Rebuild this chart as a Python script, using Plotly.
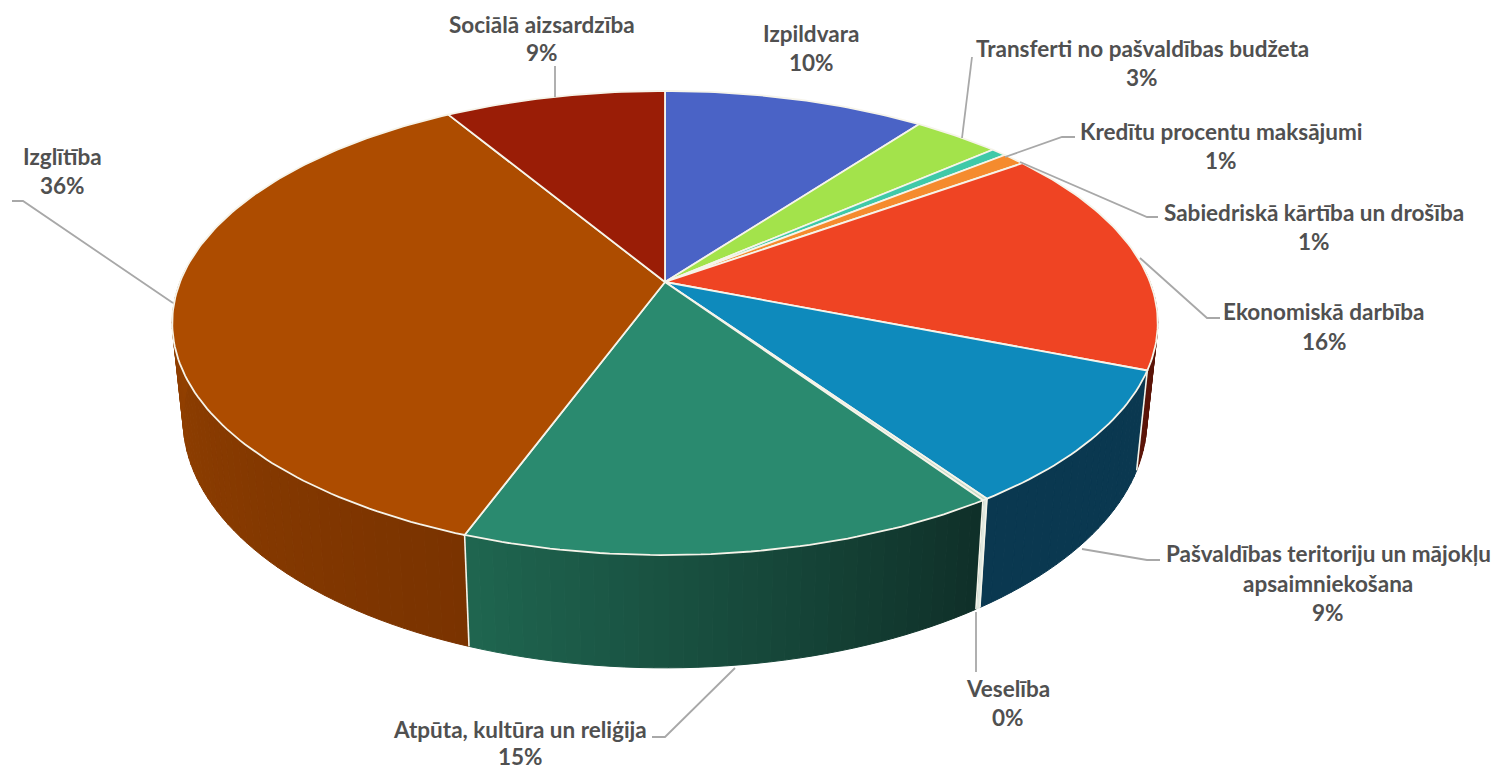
import math
import plotly.graph_objects as go

# ---- data ----
names = ["Izpildvara", "Transferti no pašvaldības budžeta", "Kredītu procentu maksājumi",
         "Sabiedriskā kārtība un drošība", "Ekonomiskā darbība",
         "Pašvaldības teritoriju un mājokļu|apsaimniekošana", "Veselība",
         "Atpūta, kultūra un reliģija", "Izglītība", "Sociālā aizsardzība"]
values = [10.2, 3.4, 0.6, 0.9, 15.9, 9.4, 0.15, 15.05, 35.8, 8.6]
percent_labels = ["10%", "3%", "1%", "1%", "16%", "9%", "0%", "15%", "36%", "9%"]

# ---- styles ----
top_colors = ["#4a63c6", "#a3e34b", "#3fc9a8", "#f58b2e", "#ef4423", "#0e8abc",
              "#c9dcc9", "#2a8a6f", "#ad4c00", "#9a1d06"]
wall_start = ["#2a3870", "#5c8028", "#20705e", "#8a4d18", "#6a1a0a", "#0a3850",
              "#dfe8df", "#0f2f28", "#7a3300", "#5a1003"]
wall_end   = ["#2a3870", "#5c8028", "#20705e", "#8a4d18", "#5a1408", "#0a3850",
              "#dfe8df", "#1f6650", "#a84c00", "#5a1003"]
TEXT = "#505050"
LEAD = "#a8a8a8"
FONT = "Lato"
FS = 22.5

# label layout: name centre x, name centre y(s), pct y
label_pos = [(811, [33], 62), (1142, [48], 77), (1221, [131], 160), (1314, [212], 241),
             (1324, [311], 341), (1328, [553, 583], 612), (1008, [688], 717),
             (520, [729], 756), (62, [156], 185), (542, [24], 52)]
leaders = [([972, 962], [57, 138]),
           ([1075, 1062, 1005], [137, 137, 157]),
           ([1158, 1147, 1020], [217, 217, 162]),
           ([1220, 1207, 1140], [318, 318, 258]),
           ([1160, 1147, 1082], [560, 560, 549]),
           ([976, 976], [672, 612]),
           ([652, 665, 735], [737, 737, 668]),
           ([12, 23, 173], [201, 201, 303]),
           ([555, 555], [66, 97])]

# ---- projection of the tilted disc onto the page ----
CX, CY, A, B, K = 665.0, 282.0, 485.0, 224.8, 0.1767


def rim(deg):
    a = math.radians(deg)
    X, Y = math.sin(a), math.cos(a)
    w = 1 + K * Y
    return CX + A * X / w, CY - B * Y / w, Y


def low(x, y):
    return CX + 0.978 * (x - CX), y + 100 + 0.07 * (y - 372)


def mix(c1, c2, t):
    p = [int(c1[i:i + 2], 16) for i in (1, 3, 5)]
    q = [int(c2[i:i + 2], 16) for i in (1, 3, 5)]
    return "#%02x%02x%02x" % tuple(round(a + (b - a) * t) for a, b in zip(p, q))


fig = go.Figure()
total = sum(values)
edges = [0.0]
for v in values:
    edges.append(edges[-1] + v / total * 360)

# side walls
for i in range(len(values)):
    s, e = edges[i], edges[i + 1]
    n = max(1, int(math.ceil((e - s) / 1.5)))
    for j in range(n):
        a0 = s + (e - s) * j / n
        a1 = s + (e - s) * (j + 1) / n
        x0, y0, Y0 = rim(a0)
        x1, y1, Y1 = rim(a1)
        if Y0 > 0.05 and Y1 > 0.05:
            continue
        bx0, by0 = low(x0, y0)
        bx1, by1 = low(x1, y1)
        col = mix(wall_start[i], wall_end[i], (j + 0.5) / n)
        fig.add_trace(go.Scatter(x=[x0, x1, bx1, bx0, x0], y=[y0, y1, by1, by0, y0],
                                 mode="lines", fill="toself", fillcolor=col,
                                 line=dict(color=col, width=1), hoverinfo="skip"))

# white seams down the wall
for i, a in enumerate(edges[:-1]):
    x, y, Y = rim(a)
    if Y < 0.05:
        bx, by = low(x, y)
        fig.add_trace(go.Scatter(x=[x, bx], y=[y, by], mode="lines",
                                 line=dict(color="#f4f4ea", width=1.6), hoverinfo="skip"))

# top faces
for i in range(len(values)):
    s, e = edges[i], edges[i + 1]
    n = max(2, int(math.ceil((e - s) / 1.0)))
    pts = [rim(s + (e - s) * j / n) for j in range(n + 1)]
    xs = [CX] + [p[0] for p in pts] + [CX]
    ys = [CY] + [p[1] for p in pts] + [CY]
    fig.add_trace(go.Scatter(x=xs, y=ys, mode="lines", fill="toself", fillcolor=top_colors[i],
                             line=dict(color="#f6f4ea", width=1.8),
                             name=names[i].replace("|", " "), hoverinfo="name"))

# leader lines
for lx, ly in leaders:
    fig.add_trace(go.Scatter(x=lx, y=ly, mode="lines",
                             line=dict(color=LEAD, width=1.8), hoverinfo="skip"))

# labels
annotations = []
for name, pct, (lx, lys, py) in zip(names, percent_labels, label_pos):
    for part, ly in zip(name.split("|"), lys):
        annotations.append(dict(x=lx, y=ly, text=part, showarrow=False, xanchor="center",
                                yanchor="middle", font=dict(family=FONT, size=FS, color=TEXT)))
    annotations.append(dict(x=lx, y=py, text=pct, showarrow=False, xanchor="center",
                            yanchor="middle", font=dict(family=FONT, size=FS, color=TEXT)))
for a in annotations:
    a["text"] = "<b>" + a["text"] + "</b>"

fig.update_layout(width=1497, height=769, margin=dict(l=0, r=0, t=0, b=0),
                  paper_bgcolor="white", plot_bgcolor="white", showlegend=False,
                  annotations=annotations,
                  xaxis=dict(range=[0, 1497], visible=False, fixedrange=True),
                  yaxis=dict(range=[769, 0], visible=False, fixedrange=True))
fig.write_html("out.html", config=dict(displayModeBar=False),
               post_script="document.body.style.margin='0';document.body.style.overflow='hidden';")
